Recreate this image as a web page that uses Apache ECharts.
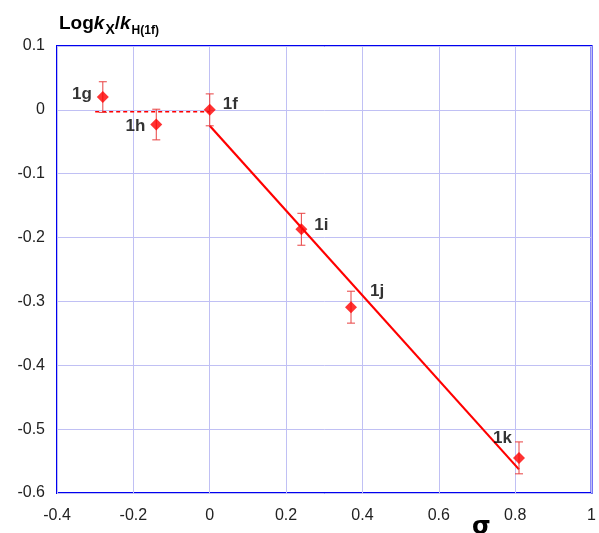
<!DOCTYPE html>
<html><head><meta charset="utf-8">
<script src="https://cdn.jsdelivr.net/npm/echarts@6/dist/echarts.min.js"></script>
<style>html,body{margin:0;padding:0;background:#fff}#c{width:599px;height:533px}</style>
</head><body><div id="c"></div>
<script>
const sigma = [-0.28, -0.14, 0, 0.24, 0.37, 0.81];
const logk = [0.020, -0.023, 0, -0.187, -0.309, -0.545];
const errs = [0.024, 0.024, 0.025, 0.025, 0.025, 0.025];
const names = ['1g', '1h', '1f', '1i', '1j', '1k'];
const fitX = [0, 0.81];
const fitY = [-0.025, -0.563];
const dashX = [-0.3, 0];
const dashY = [-0.003, -0.003];
const xTicks = [-0.4, -0.2, 0, 0.2, 0.4, 0.6, 0.8, 1];
const yTicks = [-0.6, -0.5, -0.4, -0.3, -0.2, -0.1, 0, 0.1];

const labelStyle = {
  '1g': {position: 'left', offset: [0, -3]},
  '1h': {position: 'left', offset: [0, 2]},
  '1f': {position: 'right', offset: [2, -6]},
  '1i': {position: 'right', offset: [2, -4]},
  '1j': {position: 'right', offset: [8, -16]},
  '1k': {position: 'left', offset: [4, -20]}
};

const font = 'Liberation Sans, Arial, sans-serif';
const chart = echarts.init(document.getElementById('c'));
const pts = sigma.map((x, i) => ({
  value: [x, logk[i]],
  label: Object.assign({show: true, formatter: names[i], fontWeight: 'bold', fontSize: 17, color: '#000', fontFamily: font}, labelStyle[names[i]])
}));
const errData = sigma.map((x, i) => [x, logk[i] - errs[i], logk[i] + errs[i]]);

chart.setOption({
  animation: false,
  grid: {left: 57, right: 3, top: 46, bottom: 40, show: true, borderColor: '#0000f0', borderWidth: 2, backgroundColor: '#fff'},
  xAxis: {
    type: 'value', min: -0.4, max: 1, interval: 0.2,
    axisLine: {show: false}, axisTick: {show: false},
    splitLine: {show: true, lineStyle: {color: '#c0c0f4', width: 1}},
    axisLabel: {fontSize: 16, color: '#222', fontFamily: font, margin: 15,
      formatter: v => xTicks.includes(Math.round(v * 10) / 10) ? String(Math.round(v * 10) / 10) : ''}
  },
  yAxis: {
    type: 'value', min: -0.6, max: 0.1, interval: 0.1,
    axisLine: {show: false}, axisTick: {show: false},
    splitLine: {show: true, lineStyle: {color: '#c0c0f4', width: 1}},
    axisLabel: {fontSize: 16, color: '#222', fontFamily: font, margin: 12,
      formatter: v => String(Math.round(v * 10) / 10)}
  },
  graphic: [
    {type: 'text', left: 59, top: 14, style: {
      rich: {
        b: {fontSize: 19, fontWeight: 'bold', fontFamily: font, fill: '#000'},
        i: {fontSize: 19, fontWeight: 'bold', fontStyle: 'italic', fontFamily: font, fill: '#000'},
        s: {fontSize: 14, fontWeight: 'bold', fontFamily: font, fill: '#000', padding: [13, 0, 0, 1]},
        t: {fontSize: 12, fontWeight: 'bold', fontFamily: font, fill: '#000', padding: [15, 0, 0, 1]}
      },
      text: '{b|Log}{i|k}{s|X}{b|/}{i|k}{t|H(1f)}'
    }},
    {type: 'text', left: 472, top: 516, style: {text: 'σ', fontSize: 24, fontWeight: 'bold', fontFamily: 'DejaVu Sans, sans-serif', fill: '#000'}}
  ],
  series: [
    {type: 'line', data: dashX.map((x, i) => [x, dashY[i]]), symbol: 'none',
      lineStyle: {color: '#ff0000', width: 1.5, type: [4, 3]}, z: 2},
    {type: 'line', data: fitX.map((x, i) => [x, fitY[i]]), symbol: 'none',
      lineStyle: {color: '#ff0000', width: 2.2}, z: 2},
    {type: 'custom', data: errData, z: 3,
      renderItem: (params, api) => {
        const top = api.coord([api.value(0), api.value(2)]);
        const bot = api.coord([api.value(0), api.value(1)]);
        const w = 4;
        const st = {stroke: '#e84040', lineWidth: 1};
        return {type: 'group', children: [
          {type: 'line', shape: {x1: top[0], y1: top[1], x2: bot[0], y2: bot[1]}, style: st},
          {type: 'line', shape: {x1: top[0] - w, y1: top[1], x2: top[0] + w, y2: top[1]}, style: st},
          {type: 'line', shape: {x1: bot[0] - w, y1: bot[1], x2: bot[0] + w, y2: bot[1]}, style: st}
        ]};
      }},
    {type: 'scatter', data: pts, symbol: 'diamond', symbolSize: 12,
      itemStyle: {color: '#ff0000'}, z: 4}
  ]
});
</script></body></html>
